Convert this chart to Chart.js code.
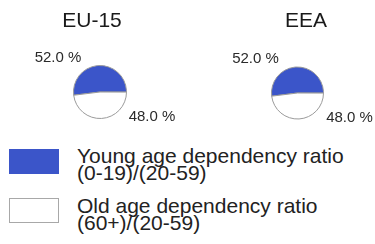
<!DOCTYPE html>
<html>
<head>
<meta charset="utf-8">
<script src="https://cdn.jsdelivr.net/npm/chart.js@4.4.1/dist/chart.umd.min.js"></script>
<style>
  body { margin: 0; background: #fff; font-family: "Liberation Sans", Arial, sans-serif; color: #222; }
  #wrap { position: relative; width: 375px; height: 244px; overflow: hidden; }
  .pie { position: absolute; top: 0; }
  #legend { position: absolute; left: 0; top: 0; }
  .item { position: absolute; left: 0; }
  .box { position: absolute; left: 9px; width: 48px; height: 23px; border: 1px solid #a8a8a8; }
  .txt { position: absolute; left: 77px; font-size: 21px; line-height: 17px; white-space: nowrap; }
</style>
</head>
<body>
<div id="wrap">
  <canvas id="pie-eu15" class="pie" style="left:0px"></canvas>
  <canvas id="pie-eea" class="pie" style="left:188px"></canvas>
  <div id="legend"></div>
</div>
<script>
// regions and their shares (percent)
let regions = ['EU-15', 'EEA']
let youngShare = [52.0, 52.0]
let oldShare = [48.0, 48.0]

// legend categories, each as two lines
let categories = [
    ['Young age dependency ratio', '(0-19)/(20-59)'],
    ['Old age dependency ratio', '(60+)/(20-59)']
]
let sliceColors = ['#3b55c9', '#ffffff']

// layout per canvas: size, padding that puts the pie in place, title x
let layouts = [
    {id: 'pie-eu15', w: 188, h: 135, pad: {left: 73, right: 61, top: 65, bottom: 16}, titleX: 92},
    {id: 'pie-eea', w: 187, h: 135, pad: {left: 83, right: 51, top: 66, bottom: 15}, titleX: 118}
]

// draws the region name and the percent labels next to the pie
let labelPlugin = {
    id: 'pieLabels',
    afterDraw(chart, args, opts) {
        let ctx = chart.ctx
        let arcs = chart.getDatasetMeta(0).data
        let cx = arcs[0].x, cy = arcs[0].y
        ctx.save()
        ctx.fillStyle = '#1a1a1a'
        ctx.textAlign = 'center'
        ctx.textBaseline = 'middle'
        ctx.font = '21px "Liberation Sans", Arial, sans-serif'
        ctx.fillText(opts.title, opts.titleX, 21)
        ctx.fillStyle = '#2a2a2a'
        ctx.font = '15px "Liberation Sans", Arial, sans-serif'
        let offsets = [[-42, -34], [52, 25]]
        chart.data.datasets[0].data.forEach(function(v, i) {
            ctx.fillText(v.toFixed(1) + ' %', cx + offsets[i][0], cy + offsets[i][1])
        })
        ctx.restore()
    }
}

regions.forEach(function(region, i) {
    let lay = layouts[i]
    let canvas = document.getElementById(lay.id)
    canvas.width = lay.w
    canvas.height = lay.h
    canvas.style.width = lay.w + 'px'
    canvas.style.height = lay.h + 'px'
    new Chart(canvas.getContext('2d'), {
        type: 'pie',
        data: {
            labels: categories.map(c => c.join(' ')),
            datasets: [{
                data: [youngShare[i], oldShare[i]],
                backgroundColor: sliceColors,
                borderColor: '#9a9a9a',
                borderWidth: 1
            }]
        },
        options: {
            responsive: false,
            animation: false,
            rotation: 263,
            layout: {padding: lay.pad},
            plugins: {
                legend: {display: false},
                tooltip: {enabled: false},
                pieLabels: {title: region, titleX: lay.titleX}
            }
        },
        plugins: [labelPlugin]
    })
})

// legend from the categories
let legend = document.getElementById('legend')
let tops = [148, 198]
categories.forEach(function(lines, i) {
    let item = document.createElement('div')
    item.className = 'item'
    item.style.top = tops[i] + 'px'
    let box = document.createElement('div')
    box.className = 'box'
    box.style.top = (i === 0 ? 1 : 0) + 'px'
    box.style.background = sliceColors[i]
    if (i === 0) box.style.borderColor = sliceColors[i]
    let txt = document.createElement('div')
    txt.className = 'txt'
    txt.style.top = '-1px'
    txt.innerHTML = lines.join('<br>')
    item.appendChild(box)
    item.appendChild(txt)
    legend.appendChild(item)
})
</script>
</body>
</html>
